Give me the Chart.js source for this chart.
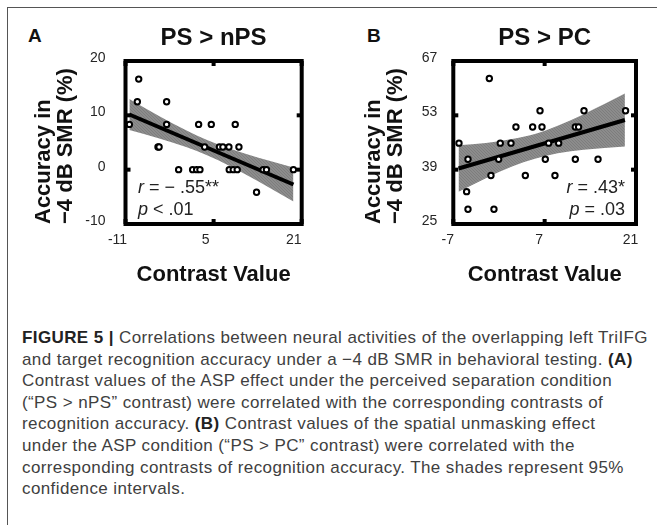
<!DOCTYPE html>
<html><head><meta charset="utf-8">
<script src="https://cdn.jsdelivr.net/npm/chart.js@4.4.0/dist/chart.umd.min.js"></script>
<style>
html,body{margin:0;padding:0;background:#fff;}
body{width:657px;height:525px;position:relative;overflow:hidden;font-family:"Liberation Sans",Arial,sans-serif;}
#frame{position:absolute;left:7px;top:7px;width:700px;height:600px;border-left:1.5px solid #555;border-top:1.5px solid #555;}
.letter{position:absolute;font-weight:bold;font-size:19px;line-height:19px;color:#111;top:25.5px;}
canvas{position:absolute;top:0;}
#caption{position:absolute;left:22px;top:327px;font-family:"Liberation Sans",Arial,sans-serif;font-weight:400;font-size:17px;line-height:21.6px;color:#404040;white-space:nowrap;}
#caption b{font-weight:700;color:#222;}
</style></head><body>
<div id="frame"></div>
<div class="letter" style="left:28px">A</div>
<div class="letter" style="left:367px">B</div>
<canvas id="cA" width="330" height="300" style="left:0;width:330px;height:300px"></canvas>
<canvas id="cB" width="327" height="300" style="left:330px;width:327px;height:300px"></canvas>
<div id="caption">
<div id="l1"><b>FIGURE 5 |</b> Correlations between neural activities of the overlapping left TriIFG</div>
<div>and target recognition accuracy under a −4 dB SMR in behavioral testing. <b>(A)</b></div>
<div>Contrast values of the ASP effect under the perceived separation condition</div>
<div>(“PS &gt; nPS” contrast) were correlated with the corresponding contrasts of</div>
<div>recognition accuracy. <b>(B)</b> Contrast values of the spatial unmasking effect</div>
<div>under the ASP condition (“PS &gt; PC” contrast) were correlated with the</div>
<div>corresponding contrasts of recognition accuracy. The shades represent 95%</div>
<div>confidence intervals.</div>
</div>
<script>
// ---- Panel A data ----
const xTicksA = [-11, 5, 21];
const yTicksA = [-10, 0, 10, 20];
const contrastA = [-8.6, -8.85, -3.53, -10.3, -3.53, 2.28, 4.58, 8.93, -5.1, -4.9, 3.37, 6.06, 6.69, 7.78, 9.6, -1.35, 1.19, 1.92, 2.52, 7.84, 8.57, 9.29, 14.0, 14.6, 19.5, 12.8];
const accuracyA = [16.67, 12.5, 12.5, 8.33, 8.33, 8.33, 8.33, 8.33, 4.17, 4.17, 4.17, 4.17, 4.17, 4.17, 4.17, 0, 0, 0, 0, 0, 0, 0, 0, 0, 0, -4.17];
const fitXA = [-10.3, 19.5];
const fitYA = [10.15, -2.73];
const bandXA = [-10.3, -5, 0, 3.7, 8, 13, 19.5];
const bandUpA = [13.0, 9.94, 7.25, 5.5, 3.83, 2.24, 0.4];
const bandLoA = [7.3, 5.78, 4.15, 2.7, 0.65, -2.08, -5.86];
// ---- Panel B data ----
const xTicksB = [-7, 7, 21];
const yTicksB = [25, 39, 53, 67];
const contrastB = [-6.13, -4.75, -4.96, -4.75, -1.48, -1.23, -0.77, -0.05, 0.2, 1.84, 2.6, 4.04, 5.16, 6.59, 6.29, 7.1, 7.61, 8.58, 9.15, 11.7, 12.2, 11.7, 13.03, 15.18, 19.4];
const accuracyB = [45.83, 41.67, 33.33, 28.8, 62.5, 37.5, 28.8, 41.67, 45.83, 45.83, 50, 37.5, 50, 50, 54.17, 41.67, 45.83, 37.5, 45.83, 50, 50, 41.67, 54.17, 41.67, 54.17];
const fitXB = [-6.2, 19.3];
const fitYB = [39.3, 51.8];
const bandXB = [-6.2, -2, 2, 5.5, 9, 13, 19.3];
const bandUpB = [45.3, 45.9, 46.9, 48.2, 50.3, 53.3, 58.6];
const bandLoB = [33.3, 36.8, 39.8, 41.8, 43.2, 44.1, 45.0];
// ---- texts ----
const titleA = 'PS > nPS';
const titleB = 'PS > PC';
const yTitle = ['Accuracy in', '−4 dB SMR (%)'];
const xTitle = 'Contrast Value';
const notesA = [[{t:'r', it:true}, {t:' = − .55**'}], [{t:'p', it:true}, {t:' < .01'}]];
const notesB = [[{t:'r', it:true}, {t:' = .43*'}], [{t:'p', it:true}, {t:' = .03'}]];

const FAM = '"Liberation Sans", Arial, sans-serif';

// caption width fit
(function(){
  const l1 = document.getElementById('l1');
  const sp = document.createElement('span'); sp.innerHTML = l1.innerHTML; l1.innerHTML=''; l1.appendChild(sp);
  const w = sp.getBoundingClientRect().width;
  const n = sp.textContent.length;
  const ls = (626 - w) / n;
  document.getElementById('caption').style.letterSpacing = ls + 'px';
})();

function hatch(ctx) {
  const c = document.createElement('canvas'); c.width = 3; c.height = 3;
  const g = c.getContext('2d');
  g.fillStyle = '#8c8c8c'; g.fillRect(0, 0, 3, 3);
  g.strokeStyle = '#7d7d7d'; g.lineWidth = 1;
  g.beginPath(); g.moveTo(0, 0); g.lineTo(3, 3); g.stroke();
  return ctx.createPattern(c, 'repeat');
}

const deco = {
  id: 'deco',
  afterDatasetsDraw(chart, args, o) {
    const {ctx, chartArea: a, scales: {x, y}} = chart;
    ctx.save();
    ctx.fillStyle = '#000';
    x.ticks.forEach(t => { const p = x.getPixelForValue(t.value); ctx.fillRect(p - 2, a.bottom - 5, 4, 5); ctx.fillRect(p - 2, a.top, 4, 5); });
    y.ticks.forEach(t => { const p = y.getPixelForValue(t.value); ctx.fillRect(a.left, p - 2, 5, 4); ctx.fillRect(a.right - 5, p - 2, 5, 4); });
    ctx.strokeStyle = '#000'; ctx.lineWidth = 4;
    ctx.strokeRect(a.left, a.top, a.right - a.left, a.bottom - a.top);
    ctx.fillStyle = '#222'; ctx.textAlign = 'left'; ctx.textBaseline = 'alphabetic';
    (o.notes || []).forEach((parts, i) => {
      const fnt = p => (p.it ? 'italic ' : '') + '18px ' + FAM;
      const ws = parts.map(p => { ctx.font = fnt(p); return ctx.measureText(p.t).width; });
      const tot = ws.reduce((s, v) => s + v, 0);
      let x0 = o.align === 'right' ? a.right - o.dx - tot : a.left + o.dx;
      const yb = a.top + o.dy[i];
      parts.forEach((p, k) => { ctx.font = fnt(p); ctx.fillText(p.t, x0, yb); x0 += ws[k]; });
    });
    ctx.restore();
  }
};

const pts = (xs, ys) => xs.map((v, i) => ({x: v, y: ys[i]}));

function make(id, d) {
  const canvas = document.getElementById(id);
  const ctx = canvas.getContext('2d');
  return new Chart(ctx, {
    type: 'scatter',
    data: { datasets: [
      {data: pts(d.xs, d.ys), showLine: false, pointRadius: 2.7, pointBorderWidth: 2, pointBorderColor: '#000', pointBackgroundColor: '#fff', order: 0},
      {data: pts(d.fx, d.fy), showLine: true, borderColor: '#000', borderWidth: 4, pointRadius: 0, fill: false, order: 1},
      {data: pts(d.bx, d.bu), showLine: true, borderWidth: 0, borderColor: 'rgba(0,0,0,0)', pointRadius: 0, fill: false, tension: 0.4, cubicInterpolationMode: 'monotone', order: 3},
      {data: pts(d.bx, d.bl), showLine: true, borderWidth: 0, borderColor: 'rgba(0,0,0,0)', pointRadius: 0, fill: '-1', backgroundColor: hatch(ctx), tension: 0.4, cubicInterpolationMode: 'monotone', order: 2}
    ]},
    options: {
      responsive: false, animation: false, devicePixelRatio: 1,
      layout: {padding: {left: 0, top: 0, bottom: 0, right: d.padR}},
      plugins: {
        legend: {display: false}, tooltip: {enabled: false},
        title: {display: true, text: d.title, fullSize: false, color: '#111', font: {family: FAM, size: 24, weight: 'bold'}, padding: {top: 24.1, bottom: 8.1}},
        deco: {notes: d.notes, align: d.noteAlign, dx: d.noteDx, dy: [132, 154]}
      },
      scales: {
        x: {type: 'linear', min: d.xt[0], max: d.xt[d.xt.length - 1],
          afterBuildTicks: s => { s.ticks = d.xt.map(v => ({value: v})); },
          afterFit: s => { s.height = 76; },
          grid: {display: false, drawTicks: false}, border: {display: false},
          ticks: {padding: 8, labelOffset: d.xOff, color: '#262626', font: {family: FAM, size: 14}, maxRotation: 0, autoSkip: false, callback: v => String(v)},
          title: {display: true, text: xTitle, color: '#111', font: {family: FAM, size: 22, weight: 'bold'}, padding: {top: 0, bottom: 11.8}}
        },
        y: {type: 'linear', min: d.yt[0], max: d.yt[d.yt.length - 1],
          afterBuildTicks: s => { s.ticks = d.yt.map(v => ({value: v})); },
          afterFit: s => { s.width = d.yw; },
          grid: {display: false, drawTicks: false}, border: {display: false},
          ticks: {padding: d.yPad, labelOffset: -3, color: '#262626', font: {family: FAM, size: 14}, autoSkip: false, callback: v => String(v)},
          title: {display: true, text: yTitle, align: 'start', color: '#111', font: {family: FAM, size: 22, weight: 'bold', lineHeight: 1}, padding: {top: 33, bottom: 0}}
        }
      }
    },
    plugins: [deco]
  });
}

make('cA', {xs: contrastA, ys: accuracyA, fx: fitXA, fy: fitYA, bx: bandXA, bu: bandUpA, bl: bandLoA,
  xt: xTicksA, yt: yTicksA, title: titleA, notes: notesA, noteAlign: 'left', noteDx: 12.5,
  padR: 28.3, yw: 125.5, yPad: 20, xOff: -8});
make('cB', {xs: contrastB, ys: accuracyB, fx: fitXB, fy: fitYB, bx: bandXB, bu: bandUpB, bl: bandLoB,
  xt: xTicksB, yt: yTicksB, title: titleB, notes: notesB, noteAlign: 'right', noteDx: 11,
  padR: 21, yw: 123.3, yPad: 16, xOff: -5.5});
</script>
</body></html>
